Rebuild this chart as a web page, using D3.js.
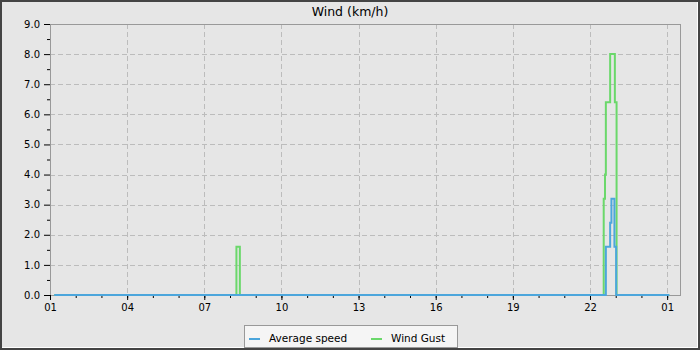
<!DOCTYPE html>
<html>
<head>
<meta charset="utf-8">
<script src="https://cdn.jsdelivr.net/npm/d3@7"></script>
<style>
  body { margin: 0; background: #444; }
  svg { display: block; font-family: "DejaVu Sans", sans-serif; }
</style>
</head>
<body>
<div id="chart"></div>
<script>
// Wind chart for one day, hourly axis, step lines

const title = "Wind (km/h)";
const day = "2024-01-01";
const domainStart = "01:00";
const domainEnd = "01:30";   // next day

// times are HH:MM, a time earlier than the previous one rolls over to the next day
const avgTimes  = ["01:10", "22:37", "22:47", "22:50", "22:57", "23:01", "01:05"];
const avgValues = [0, 1.6, 2.4, 3.2, 1.6, 0, 0];

const gustTimes  = ["01:10", "08:15", "08:23", "22:32", "22:35", "22:37", "22:47", "22:58", "23:02", "01:05"];
const gustValues = [0, 1.6, 0, 3.2, 4.0, 6.4, 8.0, 6.4, 0, 0];

const yTicks = [0, 1, 2, 3, 4, 5, 6, 7, 8, 9];
const seriesNames = ["Average speed", "Wind Gust"];
const seriesColors = ["#4ca6dc", "#6bd86b"];

const width = 700, height = 350;
const margin = { left: 50, right: 20, top: 24, bottom: 55 };

function toDates(times) {
    let offset = 0, prev = -1;
    return times.map(t => {
        const [h, m] = t.split(":").map(Number);
        const mins = h * 60 + m;
        if (mins < prev) offset += 1;
        prev = mins;
        const d = new Date(`${day}T${t}:00`);
        d.setDate(d.getDate() + offset);
        return d;
    });
}

const svg = d3.select("#chart").append("svg")
    .attr("width", width)
    .attr("height", height);

// frame
svg.append("rect").attr("width", width).attr("height", height).attr("fill", "#444");
svg.append("rect").attr("x", 2).attr("y", 2).attr("width", 696).attr("height", 346).attr("fill", "#fff");
svg.append("rect").attr("x", 2).attr("y", 2).attr("width", 695).attr("height", 345).attr("fill", "#e6e6e6");

const t0 = new Date(`${day}T${domainStart}:00`);
const t1 = new Date(`${day}T${domainEnd}:00`);
t1.setDate(t1.getDate() + 1);

const x = d3.scaleTime()
    .domain([t0, t1])
    .range([margin.left, width - margin.right]);

const y = d3.scaleLinear()
    .domain([0, 9])
    .range([height - margin.bottom, margin.top]);

const plotBottom = height - margin.bottom;
const plotRight = width - margin.right;

// hourly ticks, labelled every third hour starting at the first one
const hours = d3.timeHour.range(t0, t1);
const majorX = hours.filter((d, i) => i % 3 === 0);

const g = svg.append("g");

g.selectAll(".vgrid")
    .data(majorX.slice(1))
    .enter().append("line")
    .attr("x1", d => Math.round(x(d)) + 0.5).attr("x2", d => Math.round(x(d)) + 0.5)
    .attr("y1", margin.top).attr("y2", plotBottom)
    .attr("stroke", "#bcbcbc")
    .attr("stroke-dasharray", "5,3");

g.selectAll(".hgrid")
    .data(yTicks.slice(1, -1))
    .enter().append("line")
    .attr("x1", margin.left).attr("x2", plotRight)
    .attr("y1", d => Math.round(y(d)) + 0.5).attr("y2", d => Math.round(y(d)) + 0.5)
    .attr("stroke", "#bcbcbc")
    .attr("stroke-dasharray", "5,3");

// plot frame
svg.append("rect")
    .attr("x", margin.left + 0.5).attr("y", margin.top + 0.5)
    .attr("width", plotRight - margin.left).attr("height", plotBottom - margin.top)
    .attr("fill", "none")
    .attr("stroke", "#999");

// axes
const xAxis = d3.axisBottom(x)
    .tickValues(majorX)
    .tickFormat(d3.timeFormat("%H"))
    .tickSize(5)
    .tickPadding(4);

const xAxisMinor = d3.axisBottom(x)
    .tickValues(hours)
    .tickFormat("")
    .tickSize(3);

const yAxis = d3.axisLeft(y)
    .tickValues(yTicks)
    .tickFormat(d3.format(".1f"))
    .tickSize(6)
    .tickPadding(4);

const yAxisMinor = d3.axisLeft(y)
    .tickValues(d3.range(0.5, 9, 1))
    .tickFormat("")
    .tickSize(3);

function styleAxis(sel) {
    sel.select(".domain").remove();
    sel.selectAll(".tick line").attr("stroke", "#000");
    sel.selectAll(".tick text")
        .attr("fill", "#000")
        .style("font-size", "10px")
        .style("font-family", "DejaVu Sans, sans-serif");
}

svg.append("g").attr("transform", `translate(0,${plotBottom})`).call(xAxisMinor).call(styleAxis);
svg.append("g").attr("transform", `translate(0,${plotBottom})`).call(xAxis).call(styleAxis);
svg.append("g").attr("transform", `translate(${margin.left},0)`).call(yAxisMinor).call(styleAxis);
svg.append("g").attr("transform", `translate(${margin.left},0)`).call(yAxis).call(styleAxis);

// series
const line = d3.line()
    .x(d => x(d[0]))
    .y(d => y(d[1]))
    .curve(d3.curveStepAfter);

const gust = d3.zip(toDates(gustTimes), gustValues);
const avg = d3.zip(toDates(avgTimes), avgValues);

svg.append("path")
    .datum(gust)
    .attr("d", line)
    .attr("fill", "none")
    .attr("stroke", seriesColors[1])
    .attr("stroke-width", 2);

svg.append("path")
    .datum(avg)
    .attr("d", line)
    .attr("fill", "none")
    .attr("stroke", seriesColors[0])
    .attr("stroke-width", 2);

// title
svg.append("text")
    .attr("x", width / 2)
    .attr("y", 16)
    .attr("text-anchor", "middle")
    .style("font-size", "12.5px")
    .text(title);

// legend
const legend = svg.append("g");
legend.append("rect")
    .attr("x", 244.5).attr("y", 325.5)
    .attr("width", 213).attr("height", 22)
    .attr("fill", "#f5f5f5")
    .attr("stroke", "#999");

const legendX = [249, 371];
seriesNames.forEach((name, i) => {
    legend.append("line")
        .attr("x1", legendX[i]).attr("x2", legendX[i] + 11)
        .attr("y1", 339).attr("y2", 339)
        .attr("stroke", seriesColors[i])
        .attr("stroke-width", 2);
    legend.append("text")
        .attr("x", legendX[i] + 20)
        .attr("y", 341.5)
        .style("font-size", "10.5px")
        .text(name);
});
</script>
</body>
</html>
